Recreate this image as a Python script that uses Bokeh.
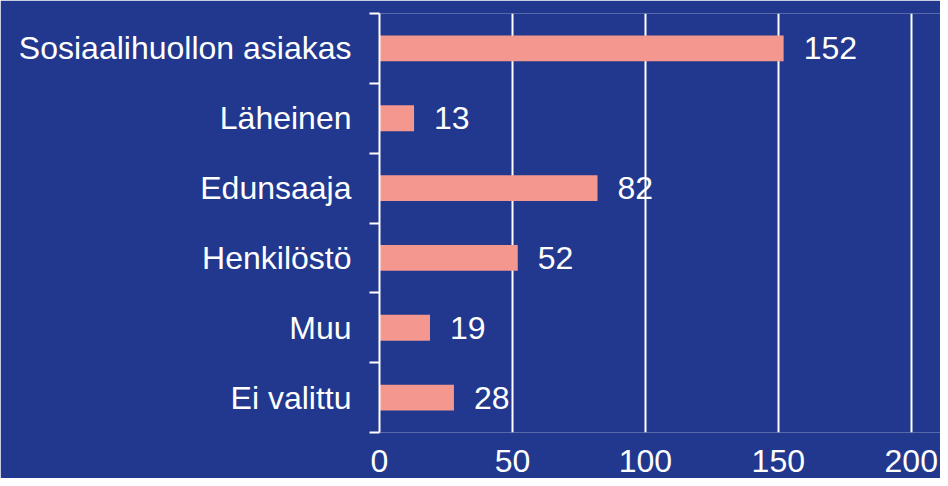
from bokeh.plotting import figure
from bokeh.models import Range1d, FixedTicker
from bokeh.core.properties import value
from bokeh.embed import file_html
from bokeh.resources import INLINE

categories = ["Sosiaalihuollon asiakas", "Läheinen", "Edunsaaja", "Henkilöstö", "Muu", "Ei valittu"]
counts = [152, 13, 82, 52, 19, 28]
x_ticks = [0, 50, 100, 150, 200]

BG = "#21388E"
BAR = "#F4978E"
FONT = "Liberation Sans"

n = len(categories)
ys = [i + 0.5 for i in range(n)]
bounds = list(range(n + 1))

p = figure(width=940, height=478, output_backend="svg", toolbar_location=None,
           x_range=Range1d(0, 211), y_range=Range1d(n, 0),
           min_border_left=379, min_border_right=0, min_border_top=13, min_border_bottom=46)
p.background_fill_color = BG
p.border_fill_color = BG
p.outline_line_color = None

p.hbar(y=ys, right=counts, left=0, height=0.37, fill_color=BAR, line_color=None)
p.text(x=counts, y=ys, text=[str(c) for c in counts], x_offset=20,
       text_baseline="middle", text_align="left", text_color="white",
       text_font=value(FONT), text_font_size="32px")

# x axis
p.xaxis.ticker = FixedTicker(ticks=x_ticks)
p.xaxis.axis_line_color = None
p.xaxis.major_tick_line_color = None
p.xaxis.minor_tick_line_color = None
p.xaxis.major_label_text_color = "white"
p.xaxis.major_label_text_font = FONT
p.xaxis.major_label_text_font_size = "32px"
p.xaxis.major_label_standoff = 11

# y axis
p.yaxis.ticker = FixedTicker(ticks=ys, minor_ticks=bounds)
p.yaxis.major_label_overrides = {y: c for y, c in zip(ys, categories)}
p.yaxis.axis_line_color = "white"
p.yaxis.axis_line_width = 2
p.yaxis.major_tick_line_color = None
p.yaxis.minor_tick_line_color = "white"
p.yaxis.minor_tick_line_width = 2
p.yaxis.minor_tick_out = 10
p.yaxis.minor_tick_in = 0
p.yaxis.major_label_text_color = "white"
p.yaxis.major_label_text_font = FONT
p.yaxis.major_label_text_font_size = "32px"
p.yaxis.major_label_standoff = 18

p.xgrid.ticker = FixedTicker(ticks=x_ticks)
p.xgrid.grid_line_color = "white"
p.xgrid.grid_line_width = 2
p.ygrid.grid_line_color = None

open("out.html", "w").write(file_html(p, INLINE))
